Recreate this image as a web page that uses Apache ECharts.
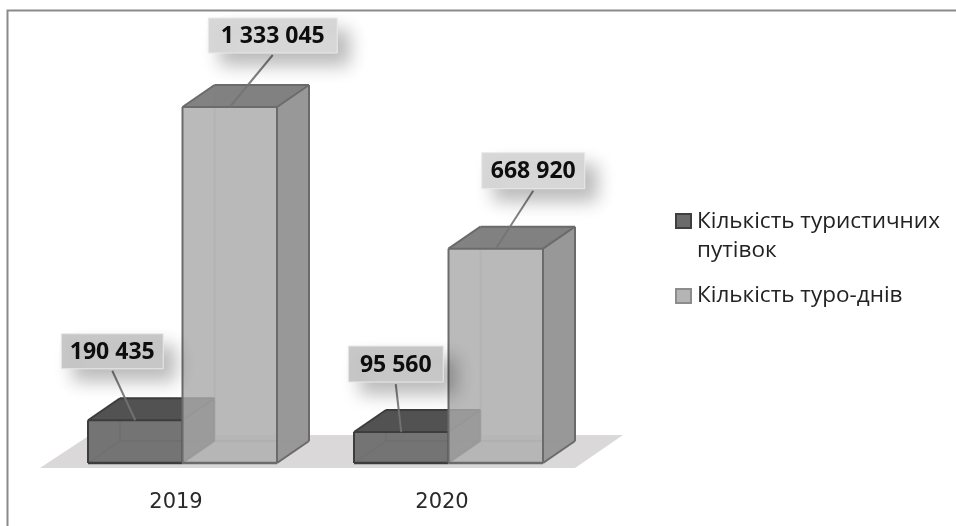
<!DOCTYPE html>
<html><head><meta charset="utf-8">
<style>html,body{margin:0;padding:0;background:#fff}#c{width:956px;height:526px}</style>
<script src="https://cdn.jsdelivr.net/npm/echarts@6/dist/echarts.min.js"></script>
</head><body><div id="c"></div>
<script>
const years = ['2019', '2020'];
const seriesNames = ['Кількість туристичних\nпутівок', 'Кількість туро-днів'];
// Values printed on the labels
const packagesLabels = [190435, 95560];
const tourDaysLabels = [1333045, 668920];
// Heights as drawn in the picture, in % of the tallest bar (the picture is not proportional to the labels)
const packagesDrawn = [12.0, 8.7];
const tourDaysDrawn = [100, 60.2];

const FONT = '"Open Sans", sans-serif';
const fmt = v => String(v).replace(/\B(?=(\d{3})+(?!\d))/g, ' ');
const DX = 32, DY = -22, SHIFT = 6.5, BAR = 94.5;
const looks = [
  {back:'rgba(95,95,95,.95)',left:'rgba(95,95,95,.95)',floor:'rgba(95,95,95,.95)',right:'rgba(80,80,80,.8)',top:'#525252',front:'rgba(122,122,122,.72)',edge:'#3d3d3d',hidden:'rgba(50,50,50,.45)'},
  {back:'rgba(178,178,178,.85)',left:'rgba(140,140,140,.55)',floor:'rgba(170,170,170,.7)',right:'rgba(150,150,150,.95)',top:'rgba(125,125,125,.94)',front:'rgba(182,182,182,.6)',edge:'#6b6b6b',hidden:'rgba(130,130,130,.35)'}
];
// label box centre relative to front-top centre of the bar, and box size
const labelPlace = [
  [{dx:-23,dy:-69,w:102,h:35},{dx:-5.5,dy:-68,w:95,h:36}],
  [{dx:43,dy:-71.5,w:129,h:35},{dx:37.5,dy:-78,w:103,h:36}]
];
const poly = (pts, fill, z2) => ({type:'polygon', z2, shape:{points:pts}, style:{fill, stroke:null}});
const edge = (a, b, stroke, w, z2) => ({type:'line', z2, shape:{x1:a[0],y1:a[1],x2:b[0],y2:b[1]}, style:{stroke, lineWidth:w}});

function drawBar(kind) {
  return function (params, api) {
    const i = api.value(0), h = api.value(1);
    const c = api.coord([i, h]), base = api.coord([i, 0]);
    const L = c[0] + SHIFT + (kind === 0 ? -BAR : 0), R = L + BAR, T = c[1], B = base[1];
    const k = looks[kind], z = 10 + kind * 10;
    const o = (p) => [p[0] + DX, p[1] + DY];
    const fTL=[L,T],fTR=[R,T],fBL=[L,B],fBR=[R,B];
    const bTL=o(fTL),bTR=o(fTR),bBL=o(fBL),bBR=o(fBR);
    return {type:'group', children:[
      poly([bTL,bTR,bBR,bBL],k.back,z),
      poly([fTL,bTL,bBL,fBL],k.left,z+1),
      poly([fBL,fBR,bBR,bBL],k.floor,z+1),
      edge(bTL,bBL,k.hidden,1.5,z+2),edge(bBL,bBR,k.hidden,1.5,z+2),edge(fBL,bBL,k.hidden,1.5,z+2),
      poly([fTR,bTR,bBR,fBR],k.right,z+3),
      poly([fTL,fTR,bTR,bTL],k.top,z+3),
      poly([fTL,fTR,fBR,fBL],k.front,z+4),
      edge(fTL,fTR,k.edge,2,z+5),edge(fTR,fBR,k.edge,2,z+5),edge(fBR,fBL,k.edge,2.5,z+5),edge(fBL,fTL,k.edge,2,z+5),
      edge(fTL,bTL,k.edge,2,z+5),edge(bTL,bTR,k.edge,2,z+5),edge(fTR,bTR,k.edge,2,z+5),edge(bTR,bBR,k.edge,2,z+5),edge(fBR,bBR,k.edge,2,z+5)
    ]};
  };
}
function drawLabel(params, api) {
  const i = api.value(0), h = api.value(1), v = api.value(2), kind = api.value(3);
  const c = api.coord([i, h]);
  const L = c[0] + SHIFT + (kind === 0 ? -BAR : 0);
  const ax = L + BAR / 2, ay = c[1];
  const p = labelPlace[kind][i];
  const cx = ax + p.dx, cy = ay + p.dy;
  const below = cy + p.h / 2 + 2;
  return {type:'group', children:[
    {type:'line', z2:40, shape:{x1:cx,y1:below,x2:ax,y2:ay}, style:{stroke:'rgba(115,115,115,.9)',lineWidth:2}},
    {type:'rect', z2:41, shape:{x:cx-p.w/2,y:cy-p.h/2,width:p.w,height:p.h},
      style:{fill:kind===0?'#c8c8c8':'#d8d8d8',stroke:'#e9e9e9',lineWidth:1,shadowBlur:18,shadowOffsetX:12,shadowOffsetY:12,shadowColor:'rgba(0,0,0,.27)'}},
    {type:'text', z2:42, style:{x:cx,y:cy+1,text:fmt(v),align:'center',verticalAlign:'middle',font:'bold 23px '+FONT,fill:'#0d0d0d'}}
  ]};
}

const chart = echarts.init(document.getElementById('c'), null, {renderer:'canvas'});
chart.setOption({
  animation:false,
  backgroundColor:'#fff',
  grid:{left:43,width:532,top:107,bottom:63},
  xAxis:{type:'category',data:years,axisLine:{show:false},axisTick:{show:false},
    axisLabel:{margin:29,fontSize:21,color:'#2a2a2a',fontFamily:'"DejaVu Sans", sans-serif'}},
  yAxis:{type:'value',min:0,max:100,show:false},
  legend:{orient:'vertical',left:669,top:201,itemWidth:17,itemHeight:58,itemGap:0,selectedMode:false,
    textStyle:{fontFamily:FONT,fontSize:22.5,lineHeight:29,color:'#222'},
    data:[
      {name:seriesNames[0],icon:'path://M0,0L0,0M1,7L16,7L16,21L1,21ZM17,58L17,58',itemStyle:{color:'#6b6b6b',borderColor:'#3f3f3f',borderWidth:2}},
      {name:seriesNames[1],icon:'path://M0,0L0,0M1,22L16,22L16,36L1,36ZM17,58L17,58',itemStyle:{color:'#b5b5b5',borderColor:'#8c8c8c',borderWidth:2}}
    ]},
  graphic:[
    {type:'polygon',z:0,silent:true,shape:{points:[[40,468],[90,435],[623,435],[575,468]]},style:{fill:'#dad8d8'}},
    {type:'polyline',z:0,silent:true,shape:{points:[[7.5,526],[7.5,10.5],[956,10.5]]},style:{stroke:'#8a8a8a',fill:null,lineWidth:2}}
  ],
  series:[
    {type:'custom',name:seriesNames[0],coordinateSystem:'cartesian2d',renderItem:drawBar(0),silent:true,z:3,
      encode:{x:0,y:1},data:years.map((y,i)=>[i,packagesDrawn[i]])},
    {type:'custom',name:seriesNames[1],coordinateSystem:'cartesian2d',renderItem:drawBar(1),silent:true,z:3,
      encode:{x:0,y:1},data:years.map((y,i)=>[i,tourDaysDrawn[i]])},
    {type:'custom',coordinateSystem:'cartesian2d',renderItem:drawLabel,silent:true,z:4,
      encode:{x:0,y:1},data:years.flatMap((y,i)=>[[i,packagesDrawn[i],packagesLabels[i],0],[i,tourDaysDrawn[i],tourDaysLabels[i],1]])}
  ]
});
</script></body></html>
